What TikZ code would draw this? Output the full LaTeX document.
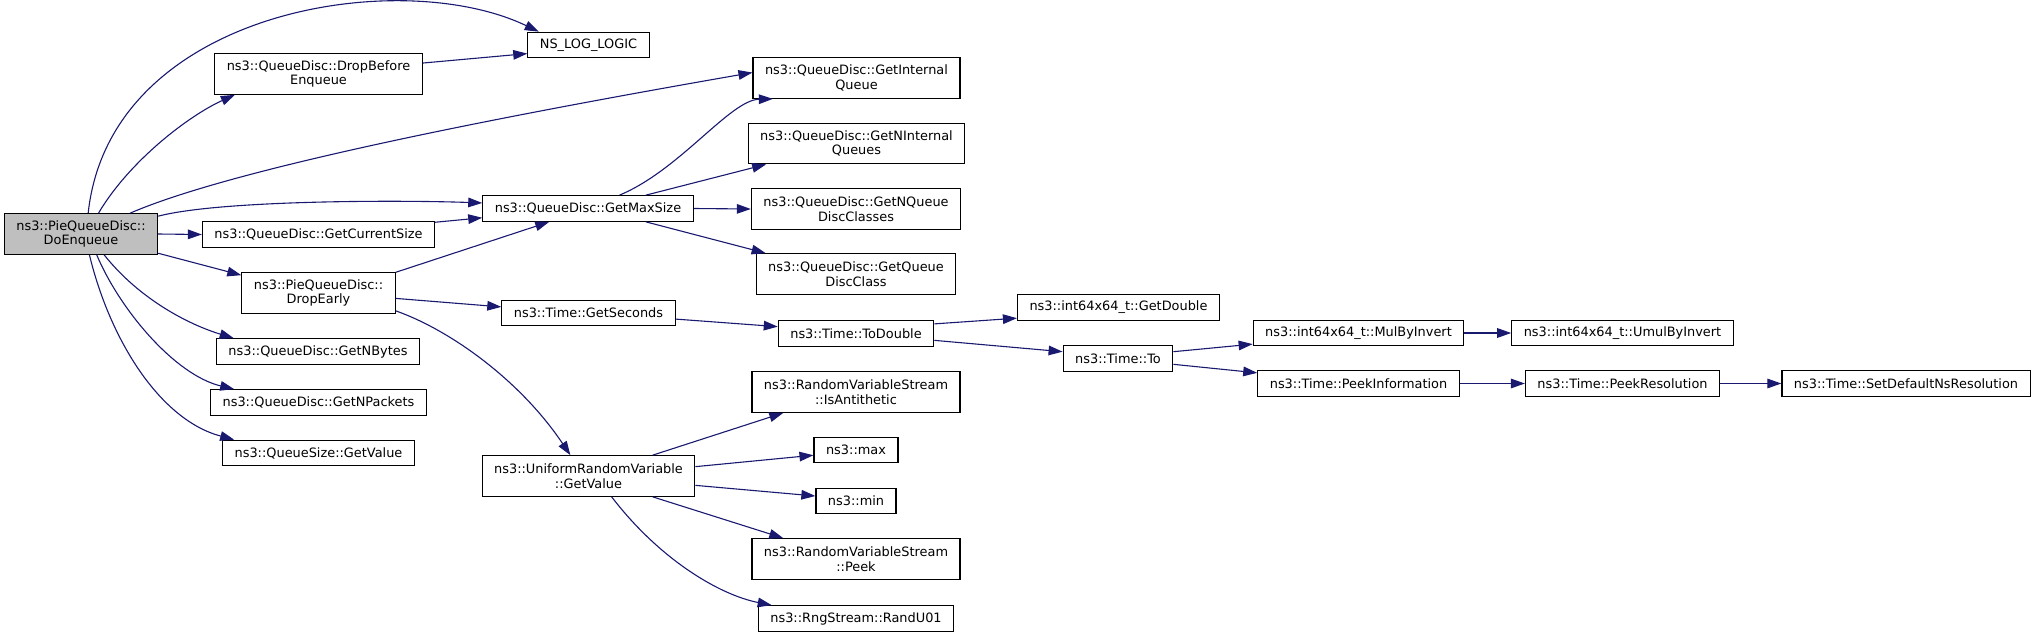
\documentclass[tikz,border=0pt]{standalone}
\usepackage{fontspec}
\setmainfont{DejaVu Sans}
\usetikzlibrary{arrows.meta}
\definecolor{edgeblue}{HTML}{191970}
\definecolor{rootgray}{HTML}{BFBFBF}

\begin{document}
\begin{tikzpicture}[x=0.5pt, y=-0.5pt,
  fn/.style={draw=black, line width=0.6pt, fill=white, align=center,
             font=\fontsize{6.45pt}{7.25pt}\selectfont,
             inner xsep=6pt, inner ysep=0pt, minimum height=12.75pt},
  fn2/.style={fn, minimum height=20.25pt},
  call/.style={draw=edgeblue, line width=0.55pt,
               -{Triangle[length=7pt,width=4.8pt]}}]
\useasboundingbox (0,0) rectangle (2032,637);

% caller
\node[fn2, fill=rootgray] (root) at (81,234) {ns3::PieQueueDisc::\\DoEnqueue};

% first column
\node[fn2] (dbe)  at (318.5,74)  {ns3::QueueDisc::DropBefore\\Enqueue};
\node[fn]  (gcs)  at (318.5,234.5) {ns3::QueueDisc::GetCurrentSize};
\node[fn2] (de)   at (318.5,293) {ns3::PieQueueDisc::\\DropEarly};
\node[fn]  (gnb)  at (318,351.5) {ns3::QueueDisc::GetNBytes};
\node[fn]  (gnp)  at (318.5,402.5) {ns3::QueueDisc::GetNPackets};
\node[fn]  (qsv)  at (318.5,453) {ns3::QueueSize::GetValue};

% second column
\node[fn]  (log)  at (588.5,45)  {NS\_LOG\_LOGIC};
\node[fn]  (gms)  at (588,208.5) {ns3::QueueDisc::GetMaxSize};
\node[fn]  (gsec) at (588.5,313) {ns3::Time::GetSeconds};
\node[fn2] (urv)  at (588.5,476) {ns3::UniformRandomVariable\\::GetValue};

% third column
\node[fn2] (gis)  at (856.5,78)  {ns3::QueueDisc::GetInternal\\Queue};
\node[fn2] (gnq)  at (856.5,143.5) {ns3::QueueDisc::GetNInternal\\Queues};
\node[fn2] (gnc)  at (856,209)   {ns3::QueueDisc::GetNQueue\\DiscClasses};
\node[fn2] (gqc)  at (856,274)   {ns3::QueueDisc::GetQueue\\DiscClass};
\node[fn]  (tod)  at (856,333.5) {ns3::Time::ToDouble};
\node[fn2] (anti) at (856,392)   {ns3::RandomVariableStream\\::IsAntithetic};
\node[fn]  (max)  at (856,450)   {ns3::max};
\node[fn]  (min)  at (856,501)   {ns3::min};
\node[fn2] (peek) at (856,559)   {ns3::RandomVariableStream\\::Peek};
\node[fn]  (rand) at (856,618.5) {ns3::RngStream::RandU01};

% right part
\node[fn]  (gdbl) at (1118.5,307.5) {ns3::int64x64\_t::GetDouble};
\node[fn]  (to)   at (1118,358.5) {ns3::Time::To};
\node[fn]  (mbi)  at (1358.5,333) {ns3::int64x64\_t::MulByInvert};
\node[fn]  (pinf) at (1358.5,383.5) {ns3::Time::PeekInformation};
\node[fn]  (umbi) at (1622.5,333) {ns3::int64x64\_t::UmulByInvert};
\node[fn]  (pres) at (1622.5,383.5) {ns3::Time::PeekResolution};
\node[fn]  (sdr)  at (1906,383.5) {ns3::Time::SetDefaultNsResolution};

% calls from DoEnqueue
\draw[call] (root.71) .. controls (110,10) and (400,-35) .. (log.165);
\draw[call] (root.50) .. controls (130,160) and (190,115) .. (dbe.194);
\draw[call] (root.23) .. controls (230,170) and (480,120) .. (gis.177);
\draw[call] (root.13) .. controls (220,200) and (400,200) .. (gms.177);
\draw[call] (root.east) -- (gcs.west);
\draw[call] (root.-14) -- (de.167);
\draw[call] (root.-42) .. controls (140,300) and (190,325) .. (gnb.171);
\draw[call] (root.-53) .. controls (120,310) and (175,375) .. (gnp.171);
\draw[call] (root.-68) .. controls (110,340) and (160,420) .. (qsv.171);

\draw[call] (dbe.6) -- (log.188);
\draw[call] (gcs.6) -- (gms.185);
\draw[call] (de.15) -- (gms.199);
\draw[call] (de.-4) -- (gsec.176);
\draw[call] (de.-13) .. controls (450,330) and (520,380) .. (urv.131);

% calls from GetMaxSize
\draw[call] (gms.23) .. controls (680,170) and (730,100) .. (gis.194);
\draw[call] (gms.13) -- (gnq.193);
\draw[call] (gms.east) -- (gnc.west);
\draw[call] (gms.-13) -- (gqc.167);

% time conversions
\draw[call] (gsec.-4) -- (tod.175);
\draw[call] (tod.7) -- (gdbl.186);
\draw[call] (tod.-5) -- (to.173);
\draw[call] (to.7) -- (mbi.186);
\draw[call] (to.-6) -- (pinf.174);
\draw[call] (mbi.east) -- (umbi.west);
\draw[call] (pinf.east) -- (pres.west);
\draw[call] (pres.east) -- (sdr.west);

% random variable
\draw[call] (urv.18) -- (anti.196);
\draw[call] (urv.5) -- (max.187);
\draw[call] (urv.-5) -- (min.173);
\draw[call] (urv.-18) -- (peek.164);
\draw[call] (urv.-42) .. controls (660,560) and (720,595) .. (rand.171);
\end{tikzpicture}
\end{document}
